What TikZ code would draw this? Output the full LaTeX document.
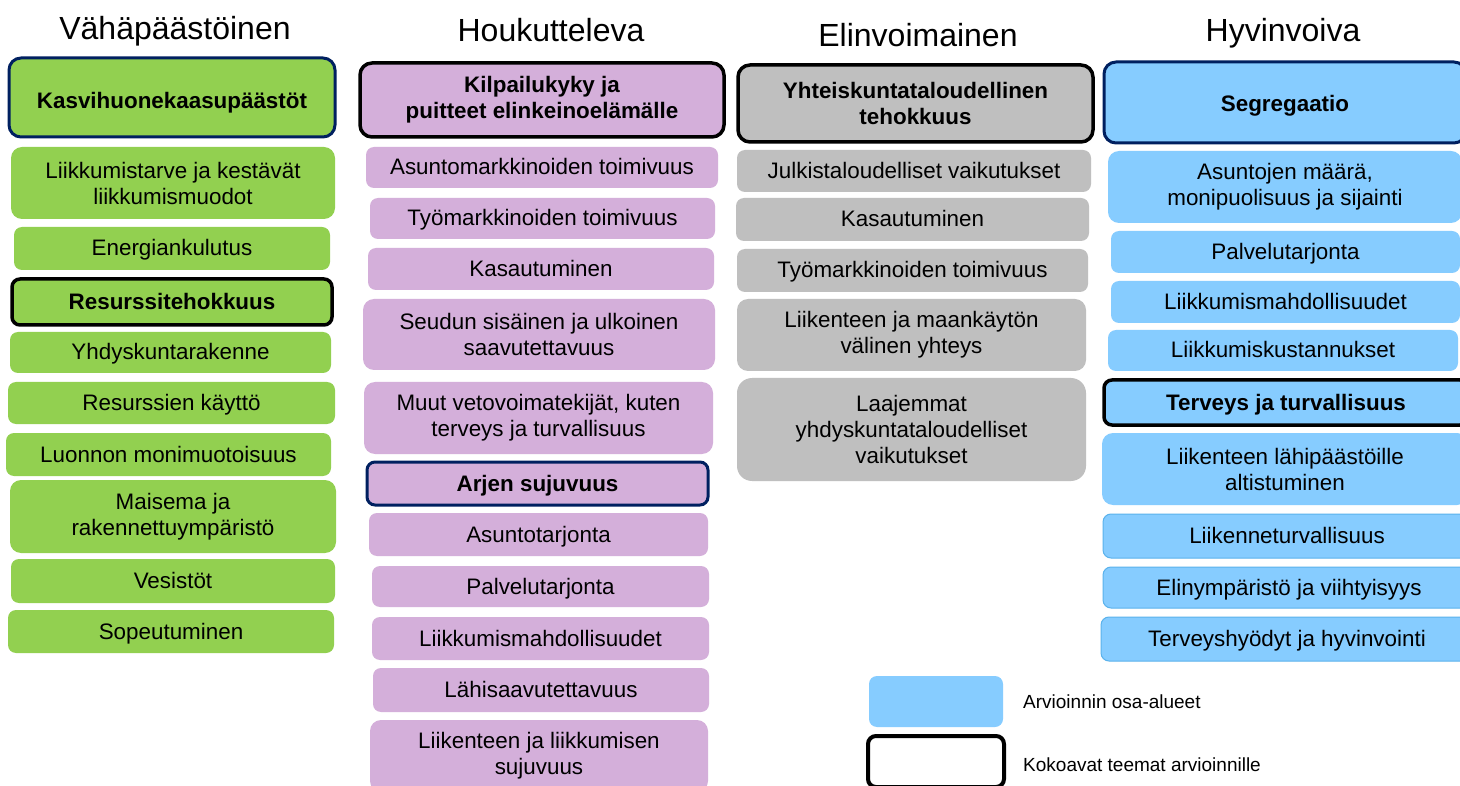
\documentclass[tikz,border=0pt]{standalone}
\usepackage{fontspec}
\setmainfont{Liberation Sans}
\newcommand\dgbody{\fontsize{22.4}{26}\selectfont}
\newcommand\dgtitle{\fontsize{32}{38}\selectfont}
\newcommand\dglegend{\fontsize{19}{22}\selectfont}
\definecolor{cgreen}{HTML}{92D050}
\definecolor{cpurple}{HTML}{D4AFDA}
\definecolor{cgrey}{HTML}{BFBFBF}
\definecolor{cblue}{HTML}{86CCFF}
\definecolor{cnavy}{HTML}{002060}
\definecolor{cblueline}{HTML}{5AB2EC}
\tikzset{
  sz/.style 2 args={minimum width=#1pt, minimum height=#2pt},
  box/.style={rounded corners=8pt, align=center, inner sep=0pt, font=\dgbody, text=black},
  one/.style={text height=15pt, text depth=0pt},
  gbox/.style={box, fill=cgreen},
  pbox/.style={box, fill=cpurple},
  rbox/.style={box, fill=cgrey},
  bbox/.style={box, fill=cblue},
  thinb/.style={draw=cblueline, line width=1pt},
  bighead/.style={rounded corners=12pt},
  blackhead/.style={draw=black, line width=3.5pt, font=\dgbody\bfseries},
  navyhead/.style={draw=cnavy, line width=3pt, font=\dgbody\bfseries},
  coltitle/.style={font=\dgtitle, text=black, inner sep=0pt},
  legtext/.style={font=\dglegend, text=black, anchor=west, inner sep=0pt},
}
\begin{document}
\begin{tikzpicture}[x=1pt, y=-1pt]
\clip (0,0) rectangle (1460,786);
\fill[white] (0,0) rectangle (1460,786);

% column titles
\node[coltitle] (t1) at (175,31) {Vähäpäästöinen};
\node[coltitle] (t2) at (551,30) {Houkutteleva};
\node[coltitle] (t3) at (918,35) {Elinvoimainen};
\node[coltitle] (t4) at (1283,33) {Hyvinvoiva};

% green column
\node[gbox, navyhead, bighead, sz={326}{79}, text height=23pt, text depth=0pt] (g1) at (172,97.5) {Kasvihuonekaasupäästöt};
\node[gbox, rounded corners=11pt, sz={324}{72}] (g2) at (173,183) {Liikkumistarve ja kestävät\\liikkumismuodot};
\node[gbox, one, sz={316}{43}] (g3) at (172,248.5) {Energiankulutus};
\node[gbox, one, blackhead, sz={320}{46}] (g4) at (172,302) {Resurssitehokkuus};
\node[gbox, one, sz={321}{41}] (g5) at (170.5,352.5) {Yhdyskuntarakenne};
\node[gbox, one, sz={327}{42}] (g6) at (171.5,403) {Resurssien käyttö};
\node[gbox, one, sz={325}{43}] (g7) at (168.5,454.5) {Luonnon monimuotoisuus};
\node[gbox, rounded corners=11pt, sz={326}{73}] (g8) at (173,516.5) {Maisema ja\\rakennettuympäristö};
\node[gbox, one, sz={324}{44}] (g9) at (173,581) {Vesistöt};
\node[gbox, one, sz={326}{43}] (g10) at (171,631.5) {Sopeutuminen};

% purple column
\node[pbox, blackhead, bighead, sz={364}{74}] (p1) at (542,100) {Kilpailukyky ja\\puitteet elinkeinoelämälle};
\node[pbox, one, sz={352}{41}] (p2) at (542,167.5) {Asuntomarkkinoiden toimivuus};
\node[pbox, one, sz={345}{41}] (p3) at (542.5,218.5) {Työmarkkinoiden toimivuus};
\node[pbox, one, sz={346}{42}] (p4) at (541,269) {Kasautuminen};
\node[pbox, rounded corners=11pt, sz={352}{71}] (p5) at (539,334.5) {Seudun sisäinen ja ulkoinen\\saavutettavuus};
\node[pbox, rounded corners=11pt, sz={349}{72}] (p6) at (538.5,418) {Muut vetovoimatekijät, kuten\\terveys ja turvallisuus};
\node[pbox, one, navyhead, sz={341}{43}] (p7) at (537.5,483.5) {Arjen sujuvuus};
\node[pbox, one, sz={339}{43}] (p8) at (538.5,534.5) {Asuntotarjonta};
\node[pbox, one, sz={337}{41}] (p9) at (540.5,586.5) {Palvelutarjonta};
\node[pbox, one, sz={337}{43}] (p10) at (540.5,638.5) {Liikkumismahdollisuudet};
\node[pbox, one, sz={336}{44}] (p11) at (541,690) {Lähisaavutettavuus};
\node[pbox, rounded corners=11pt, sz={338}{72}] (p12) at (539,756) {Liikenteen ja liikkumisen\\sujuvuus};

% grey column
\node[rbox, blackhead, bighead, sz={355}{77}] (r1) at (915.5,103.5) {Yhteiskuntataloudellinen\\tehokkuus};
\node[rbox, one, sz={354}{42}] (r2) at (914,171) {Julkistaloudelliset vaikutukset};
\node[rbox, one, sz={353}{43}] (r3) at (912.5,219.5) {Kasautuminen};
\node[rbox, one, sz={351}{43}] (r4) at (912.5,270.5) {Työmarkkinoiden toimivuus};
\node[rbox, rounded corners=11pt, sz={349}{72}] (r5) at (911.5,335) {Liikenteen ja maankäytön\\välinen yhteys};
\node[rbox, rounded corners=15pt, sz={349}{103}] (r6) at (911.5,429.5) {Laajemmat\\yhdyskuntataloudelliset\\vaikutukset};

% blue column
\node[bbox, navyhead, bighead, sz={362}{81}, text height=19pt, text depth=0pt] (b1) at (1285,102.5) {Segregaatio};
\node[bbox, rounded corners=11pt, sz={354}{72}] (b2) at (1285,187) {Asuntojen määrä,\\monipuolisuus ja sijainti};
\node[bbox, one, sz={349}{42}] (b3) at (1285.5,252) {Palvelutarjonta};
\node[bbox, one, sz={349}{42}] (b4) at (1285.5,302) {Liikkumismahdollisuudet};
\node[bbox, one, sz={350}{41}] (b5) at (1283,350.5) {Liikkumiskustannukset};
\node[bbox, one, blackhead, sz={364}{45}] (b6) at (1286,402.5) {Terveys ja turvallisuus};
\node[bbox, rounded corners=11pt, sz={366}{72}] (b7) at (1285,469) {Liikenteen lähipäästöille\\altistuminen};
\node[bbox, one, thinb, sz={368}{44}] (b8) at (1287,536) {Liikenneturvallisuus};
\node[bbox, one, thinb, sz={372}{41}] (b9) at (1289,587.5) {Elinympäristö ja viihtyisyys};
\node[bbox, one, thinb, sz={372}{44}] (b10) at (1287,639) {Terveyshyödyt ja hyvinvointi};

% legend
\node[box, fill=cblue, sz={134}{51}] (l1) at (936,701.5) {};
\node[box, fill=white, draw=black, line width=4pt, sz={136}{51}] (l2) at (936,761.5) {};
\node[legtext] (lt1) at (1023,702) {Arvioinnin osa-alueet};
\node[legtext] (lt2) at (1023,765) {Kokoavat teemat arvioinnille};
\end{tikzpicture}
\end{document}
